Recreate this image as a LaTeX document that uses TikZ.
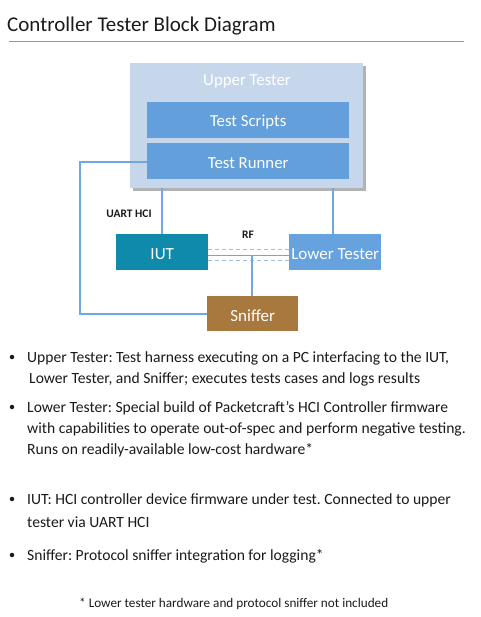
\documentclass[tikz,border=0pt]{standalone}
\usepackage{fontspec}
\setmainfont{Carlito}
\frenchspacing
\definecolor{utfill}{HTML}{C6D7EB}
\definecolor{inner}{HTML}{629FDB}
\definecolor{iutc}{HTML}{108AAB}
\definecolor{ltc}{HTML}{66A2DE}
\definecolor{snc}{HTML}{A8793F}
\definecolor{wire}{HTML}{6FA8DF}
\definecolor{dashc}{HTML}{9CBFE8}
\definecolor{rule}{HTML}{8098CC}
\definecolor{txt}{HTML}{1A1A1A}
\begin{document}
\begin{tikzpicture}[x=1pt,y=-1pt,
  blk/.style={draw=none,anchor=north west,inner sep=0pt,text=white},
  lbl/.style={text=white,inner sep=0pt,yshift=-1.5pt,font=\fontsize{16.8}{19}\selectfont},
  wireline/.style={draw=wire,line width=1.3pt},
  bodytext/.style={anchor=base west,inner sep=0pt,text=txt,font=\fontsize{15.6}{18}\selectfont},
  bul/.style={circle,fill=txt,inner sep=0pt,minimum size=4.5pt}]
\useasboundingbox (0,0) rectangle (480,617);
% title
\node[anchor=base west,inner sep=0pt,font=\fontsize{21}{24}\selectfont,text=txt] (title) at (7,32) {Controller Tester Block Diagram};
\coordinate (r1) at (9,41); \coordinate (r2) at (464,41);
\draw[rule,line width=0.8pt] (r1) -- (r2);
% upper tester with shadow
\fill[black!30] (133,66) rectangle (366,191);
\node[blk,fill=utfill,minimum width=233pt,minimum height=125pt] (ut) at (130,63) {};
\node[lbl] (utl) at (247,80) {Upper Tester};
\node[blk,fill=inner,minimum width=202pt,minimum height=36pt] (ts) at (147,102) {};
\node[lbl] at (ts.center) {Test Scripts};
\node[blk,fill=inner,minimum width=202pt,minimum height=36pt] (tr) at (147,143) {};
\node[lbl] at (tr.center) {Test Runner};
% lower boxes
\node[blk,fill=iutc,minimum width=92pt,minimum height=36pt] (iut) at (116,234) {};
\node[lbl,font=\fontsize{17}{19}\selectfont] at (iut.center) {IUT};
\node[blk,fill=ltc,minimum width=92pt,minimum height=36pt] (lt) at (289,234) {};
\node[lbl,font=\fontsize{17}{19}\selectfont] at (lt.center) {Lower Tester};
\node[blk,fill=snc,minimum width=91pt,minimum height=35pt] (sn) at (207,296) {};
\node[lbl,font=\fontsize{17}{19}\selectfont] at (sn.center) {Sniffer};
% labels
\node[font=\fontsize{11.5}{13}\selectfont\bfseries,text=txt,inner sep=0pt] (uart) at (129,214) {UART HCI};
\node[font=\fontsize{11.5}{13}\selectfont\bfseries,text=txt,inner sep=0pt] (rf) at (248,235) {RF};
% connectors
\coordinate (c1) at (80,162);
\coordinate (c2) at (80,314);
\draw[wireline] (tr.west |- 0,162) -- (c1) -- (c2) -- (sn.west |- 0,314);
\draw[wireline] (ut.south -| 162,0) -- (iut.north -| 162,0);
\draw[wireline] (ut.south -| 333,0) -- (lt.north -| 333,0);
\draw[dashc,line width=1.1pt,dash pattern=on 4pt off 3pt] (iut.east |- 0,249.5) -- (lt.west |- 0,249.5);
\draw[dashc,line width=1.1pt,dash pattern=on 4pt off 3pt] (iut.east |- 0,260.5) -- (lt.west |- 0,260.5);
\draw[wireline] (iut.east |- 0,255.5) -- (lt.west |- 0,255.5);
\draw[wireline] (252,255.5) -- (sn.north -| 252,0);
% bullets
\node[bul] (b1) at (12,357) {};
\node[bodytext] at (27,362.5) {Upper Tester: Test harness executing on a PC interfacing to the IUT,};
\node[bodytext] at (29,383.5) {Lower Tester, and Sniffer; executes tests cases and logs results};
\node[bul] (b2) at (12,407) {};
\node[bodytext] at (27,412.5) {Lower Tester: Special build of Packetcraft’s HCI Controller firmware};
\node[bodytext] at (27,433.5) {with capabilities to operate out-of-spec and perform negative testing.};
\node[bodytext] at (27,454.5) {Runs on readily-available low-cost hardware*};
\node[bul] (b3) at (12,499) {};
\node[bodytext] at (27,504.5) {IUT: HCI controller device firmware under test. Connected to upper};
\node[bodytext] at (27,527.5) {tester via UART HCI};
\node[bul] (b4) at (12,555) {};
\node[bodytext] at (27,560.5) {Sniffer: Protocol sniffer integration for logging*};
\node[anchor=base west,inner sep=0pt,text=txt,font=\fontsize{13.2}{15}\selectfont] (fn) at (79,607) {* Lower tester hardware and protocol sniffer not included};
\end{tikzpicture}
\end{document}
